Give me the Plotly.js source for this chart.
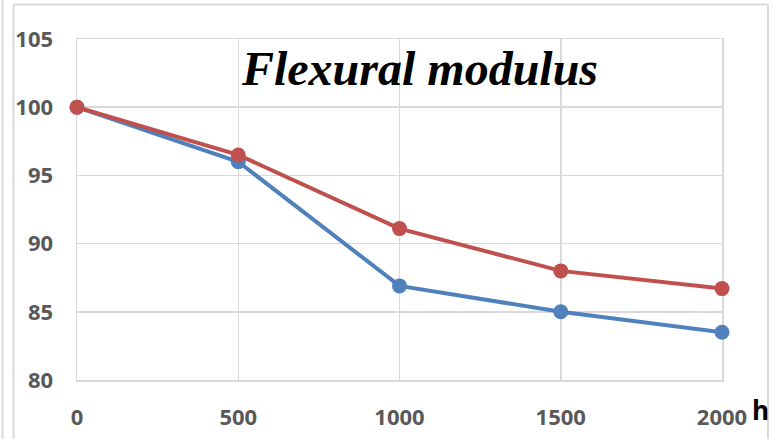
<!DOCTYPE html>
<html>
<head>
<meta charset="utf-8">
<script src="https://cdn.plot.ly/plotly-3.0.1.min.js"></script>
<style>
html,body{margin:0;padding:0;background:#fff;}
#chart{width:773px;height:439px;}
</style>
</head>
<body>
<div id="chart"></div>
<script>
// Data
const hours = [0, 500, 1000, 1500, 2000];
const seriesBlue = [100, 96.0, 86.9, 85.0, 83.5];
const seriesRed = [100, 96.5, 91.1, 88.0, 86.7];
const yTicks = [80, 85, 90, 95, 100, 105];
const xTicks = [0, 500, 1000, 1500, 2000];
const titleText = 'Flexural modulus';
const unitLabel = 'h';

const W = 773, H = 439;
const M = {l: 76.5, r: 51, t: 38.5, b: 59};
const pw = W - M.l - M.r, ph = H - M.t - M.b;
const px = x => (x - M.l) / pw;
const py = y => (H - M.b - y) / ph;

const blue = '#4F81BD', red = '#C0504D', grid = '#d9d9d9';
const tickFont = {family: 'Open Sans, sans-serif', size: 22, color: '#595959', weight: 'bold'};

const traces = [
  {x: hours, y: seriesBlue, mode: 'lines+markers', cliponaxis: false,
   line: {color: blue, width: 4}, marker: {color: blue, size: 15}},
  {x: hours, y: seriesRed, mode: 'lines+markers', cliponaxis: false,
   line: {color: red, width: 4}, marker: {color: red, size: 15}}
];

const border = {type: 'line', xref: 'paper', yref: 'paper', line: {color: grid, width: 2}, layer: 'below'};
const layout = {
  width: W, height: H,
  margin: M,
  showlegend: false,
  paper_bgcolor: '#fff', plot_bgcolor: '#fff',
  title: {text: '<b><i>' + titleText + '</i></b>', x: 420 / W, xanchor: 'center', y: 1 - 68 / H, yanchor: 'middle',
          font: {family: 'Liberation Serif, Times New Roman, serif', size: 48, color: '#000'}},
  xaxis: {range: [0, 2000], tickvals: xTicks, ticktext: xTicks.map(String), showgrid: true, gridcolor: grid, gridwidth: 1.5,
          showline: true, linecolor: grid, linewidth: 1.5, mirror: true, zeroline: false, layer: 'below traces',
          ticks: 'outside', ticklen: 17, tickcolor: 'rgba(0,0,0,0)', tickfont: tickFont},
  yaxis: {range: [80, 105], tickvals: yTicks, showgrid: true, gridcolor: grid, gridwidth: 1.5,
          showline: true, linecolor: grid, linewidth: 1.5, mirror: true, zeroline: false, layer: 'below traces',
          ticks: 'outside', ticklen: 18, tickcolor: 'rgba(0,0,0,0)', tickfont: tickFont},
  annotations: [
    {text: '<b>' + unitLabel + '</b>', xref: 'paper', yref: 'paper', x: px(761), y: py(410), xanchor: 'center', yanchor: 'middle',
     showarrow: false, font: {family: 'Open Sans, sans-serif', size: 26, color: '#000'}}
  ],
  shapes: [
    Object.assign({}, border, {x0: px(2), x1: px(2), y0: py(0), y1: py(445)}),
    Object.assign({}, border, {x0: px(13), x1: px(13), y0: py(4), y1: py(445)}),
    Object.assign({}, border, {x0: px(13), x1: px(768), y0: py(4), y1: py(4)}),
    Object.assign({}, border, {x0: px(768), x1: px(768), y0: py(4), y1: py(445)})
  ]
};

Plotly.newPlot('chart', traces, layout, {displayModeBar: false, staticPlot: true});
</script>
</body>
</html>
